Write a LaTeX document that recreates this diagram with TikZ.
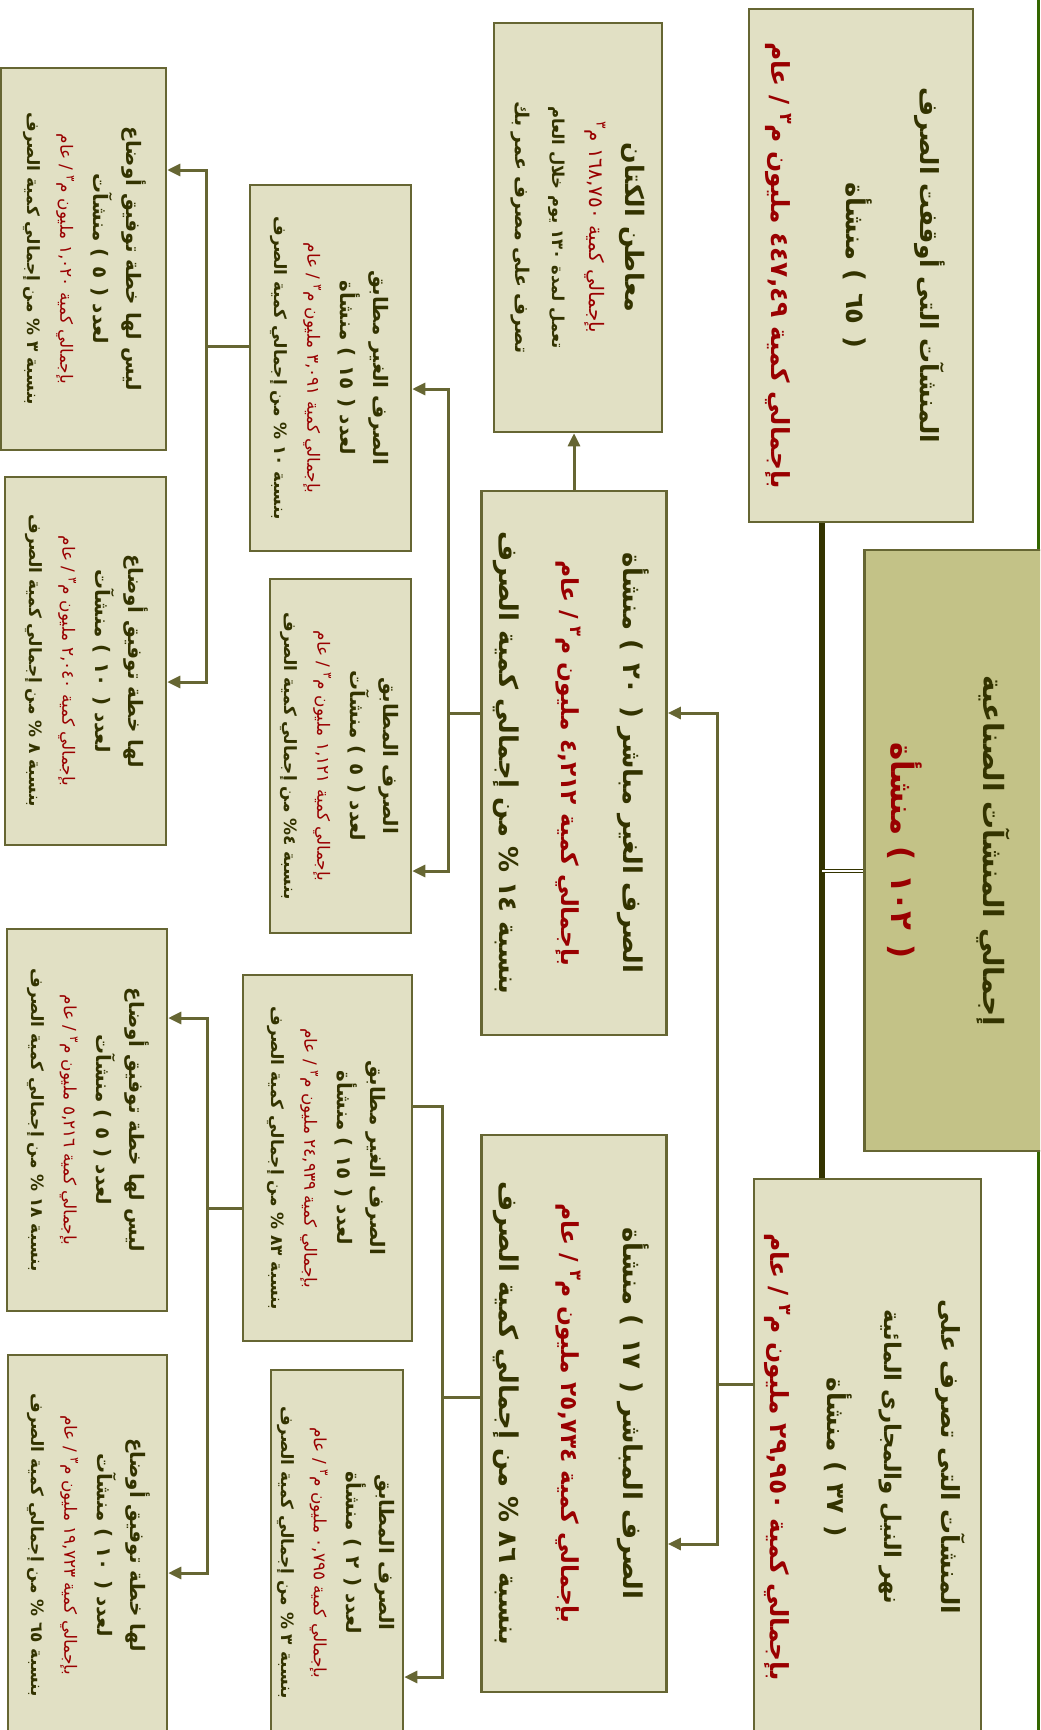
\documentclass[tikz,border=0pt]{standalone}
\usepackage{fontspec}
\usepackage{graphicx}
\usetikzlibrary{arrows.meta}
\newfontfamily\arabicfont[Script=Arabic]{DejaVu Sans}
\TeXXeTstate=1
\definecolor{txtdark}{HTML}{333300}
\definecolor{txtred}{HTML}{990000}
\definecolor{boxfill}{HTML}{E1E0C4}
\definecolor{rootfill}{HTML}{C3C287}
\definecolor{edge}{HTML}{666633}
\definecolor{pagegreen}{HTML}{336600}
\newcommand{\rtl}[1]{\beginR #1\endR}
\newcommand{\redl}[1]{\textcolor{txtred}{\rtl{#1}}}
\newcommand{\thinred}[1]{\textcolor{txtred}{\mdseries\rtl{#1}}}
\newcommand{\sz}[2]{{\fontsize{#1}{#1}\selectfont #2}}
\newcommand{\pr}[1]{(\hspace{.45em}#1\hspace{.45em})}
\newcommand{\cub}{م\textsuperscript{٣}}
\newcommand{\boxtext}[3]{\rotatebox{-90}{\arabicfont\bfseries\color{txtdark}\fontsize{#1}{#2}\selectfont\begin{tabular}{@{}c@{}}#3\end{tabular}}}

\begin{document}
\begin{tikzpicture}[x=1bp, y=-1bp,
	box/.style={draw=edge, fill=boxfill, line width=2.5bp, inner sep=0pt},
	rootbox/.style={box, fill=rootfill},
	link/.style={edge, line width=3bp},
	arrow/.style={link, -{Triangle[length=13bp,width=12bp]}},
	trunk/.style={txtdark, line width=5.5bp},
	rootlink/.style={txtdark, double=white, double distance=2bp, line width=1.2bp}]
	\useasboundingbox (0,0) rectangle (1040,1730);
	\clip (0,0) rectangle (1040,1730);
	\draw[pagegreen, line width=3bp] (1038.5,0) -- (1038.5,1730);

	\node[rootbox, minimum width=162bp, minimum height=601bp] (root) at (956,850.5)
		{\boxtext{28}{92}{\rtl{إجمالي المنشآت الصناعية}\\ \sz{31}{\redl{\pr{١٠٢} منشأة}}}};
	\node[box, minimum width=216bp, minimum height=513bp] (tr) at (861,265.5)
		{\boxtext{25}{75}{\rtl{المنشآت التى أوقفت الصرف}\\ \sz{26}{\rtl{\pr{٦٥} منشأة}}\\ \redl{بإجمالي كمية ٤٤٧,٤٩ مليون \cub{} / عام}}};
	\node[box, minimum width=221bp, minimum height=556bp] (br) at (867.5,1457)
		{\boxtext{25}{57}{\rtl{المنشآت التى تصرف على}\\ \sz{23}{\rtl{نهر النيل والمجارى المائية}}\\ \rtl{\pr{٣٧} منشأة}\\ \redl{بإجمالي كمية ٢٩,٩٥٠ مليون \cub{} / عام}}};

	\node[box, minimum width=168bp, minimum height=409bp] (mk) at (578,227.5)
		{\boxtext{18}{37}{\sz{25.5}{\rtl{معاطن الكتان}}\\ \sz{20}{\thinred{بإجمالي كمية ١٦٨,٧٥٠ \cub{}}}\\ \sz{16.5}{\rtl{تعمل لمدة ١٣٠ يوم خلال العام}}\\ \sz{19}{\rtl{تصرف على مصرف عمر بك}}}};
	\node[box, minimum width=182bp, minimum height=544bp] (l2u) at (574,763)
		{\boxtext{26}{62}{\rtl{الصرف الغير مباشر \pr{٢٠} منشأة}\\ \sz{23.5}{\redl{بإجمالي كمية ٤,٢١٢ مليون \cub{} / عام}}\\ \rtl{بنسبة ١٤ \% من إجمالي كمية الصرف}}};
	\node[box, minimum width=182bp, minimum height=557bp] (l2l) at (574,1413.5)
		{\boxtext{26}{62}{\rtl{الصرف المباشر \pr{١٧} منشأة}\\ \sz{23.5}{\redl{بإجمالي كمية ٢٥,٧٣٤ مليون \cub{} / عام}}\\ \rtl{بنسبة ٨٦ \% من إجمالي كمية الصرف}}};

	\node[box, minimum width=161bp, minimum height=366bp] (a) at (330.5,368)
		{\boxtext{17}{33}{\sz{20}{\rtl{الصرف الغير مطابق}}\\ \sz{20}{\rtl{لعدد \pr{١٥} منشأة}}\\ \thinred{بإجمالي كمية ٣,٠٩١ مليون \cub{} / عام}\\ \rtl{بنسبة ١٠ \% من إجمالي كمية الصرف}}};
	\node[box, minimum width=141bp, minimum height=354bp] (b) at (340.5,756)
		{\boxtext{17}{33}{\sz{20}{\rtl{الصرف المطابق}}\\ \sz{20}{\rtl{لعدد \pr{٥} منشآت}}\\ \thinred{بإجمالي كمية ١,١٢١ مليون \cub{} / عام}\\ \rtl{بنسبة ٤\% من إجمالي كمية الصرف}}};
	\node[box, minimum width=169bp, minimum height=366bp] (c) at (327.5,1158)
		{\boxtext{17}{33}{\sz{20}{\rtl{الصرف الغير مطابق}}\\ \sz{20}{\rtl{لعدد \pr{١٥} منشأة}}\\ \thinred{بإجمالي كمية ٢٤,٩٣٩ مليون \cub{} / عام}\\ \rtl{بنسبة ٨٣ \% من إجمالي كمية الصرف}}};
	\node[box, minimum width=132bp, minimum height=365bp] (d) at (337,1552.5)
		{\boxtext{17}{33}{\sz{20}{\rtl{الصرف المطابق}}\\ \sz{20}{\rtl{لعدد \pr{٢} منشأة}}\\ \thinred{بإجمالي كمية ٠,٧٩٥ مليون \cub{} / عام}\\ \rtl{بنسبة ٣ \% من إجمالي كمية الصرف}}};

	\node[box, minimum width=165bp, minimum height=382bp] (u1) at (83.5,259)
		{\boxtext{17}{33}{\sz{20}{\rtl{ليس لها خطة توفيق أوضاع}}\\ \sz{20}{\rtl{لعدد \pr{٥} منشآت}}\\ \thinred{بإجمالي كمية ١,٠٢٠ مليون \cub{} / عام}\\ \rtl{بنسبة ٣ \% من إجمالي كمية الصرف}}};
	\node[box, minimum width=161bp, minimum height=368bp] (u2) at (85.5,661)
		{\boxtext{17}{33}{\sz{20}{\rtl{لها خطة توفيق أوضاع}}\\ \sz{20}{\rtl{لعدد \pr{١٠} منشآت}}\\ \thinred{بإجمالي كمية ٢,٠٤٠ مليون \cub{} / عام}\\ \rtl{بنسبة ٨ \% من إجمالي كمية الصرف}}};
	\node[box, minimum width=160bp, minimum height=382bp] (l1) at (87,1120)
		{\boxtext{17}{33}{\sz{20}{\rtl{ليس لها خطة توفيق أوضاع}}\\ \sz{20}{\rtl{لعدد \pr{٥} منشآت}}\\ \thinred{بإجمالي كمية ٥,٢١٦ مليون \cub{} / عام}\\ \rtl{بنسبة ١٨ \% من إجمالي كمية الصرف}}};
	\node[box, minimum width=159bp, minimum height=380bp] (l2) at (87.5,1545)
		{\boxtext{17}{33}{\sz{20}{\rtl{لها خطة توفيق أوضاع}}\\ \sz{20}{\rtl{لعدد \pr{١٠} منشآت}}\\ \thinred{بإجمالي كمية ١٩,٧٢٣ مليون \cub{} / عام}\\ \rtl{بنسبة ٦٥ \% من إجمالي كمية الصرف}}};

	\coordinate (j0) at (822,871);
	\draw[trunk] (tr.south -| j0) -- (br.north -| j0);
	\draw[rootlink] (j0) -- (j0 -| root.west);

	\coordinate (j1) at (717,1384);
	\coordinate (k1) at (717,713);
	\coordinate (k2) at (717,1544);
	\draw[link] (br.west |- j1) -- (j1);
	\draw[arrow] (j1) -- (k1) -- (k1 -| l2u.east);
	\draw[arrow] (j1) -- (k2) -- (k2 -| l2l.east);
	\draw[arrow] (l2u.north) -- (l2u.north |- mk.south);

	\coordinate (j2) at (448,713);
	\coordinate (ka) at (448,389);
	\coordinate (kb) at (448,871);
	\draw[link] (l2u.west |- j2) -- (j2);
	\foreach \k/\n in {ka/a, kb/b} \draw[arrow] (j2) -- (\k) -- (\k -| \n.east);

	\coordinate (j3) at (206,346);
	\coordinate (ku1) at (206,170);
	\coordinate (ku2) at (206,682);
	\draw[link] (a.west |- j3) -- (j3);
	\foreach \k/\n in {ku1/u1, ku2/u2} \draw[arrow] (j3) -- (\k) -- (\k -| \n.east);

	\coordinate (j4) at (442,1397);
	\coordinate (kc) at (442,1106);
	\coordinate (kd) at (442,1677);
	\draw[link] (l2l.west |- j4) -- (j4);
	\draw[link] (j4) -- (kc) -- (kc -| c.east);
	\draw[arrow] (j4) -- (kd) -- (kd -| d.east);

	\coordinate (j5) at (207,1208);
	\coordinate (kl1) at (207,1018);
	\coordinate (kl2) at (207,1573);
	\draw[link] (c.west |- j5) -- (j5);
	\foreach \k/\n in {kl1/l1, kl2/l2} \draw[arrow] (j5) -- (\k) -- (\k -| \n.east);
\end{tikzpicture}
\end{document}
